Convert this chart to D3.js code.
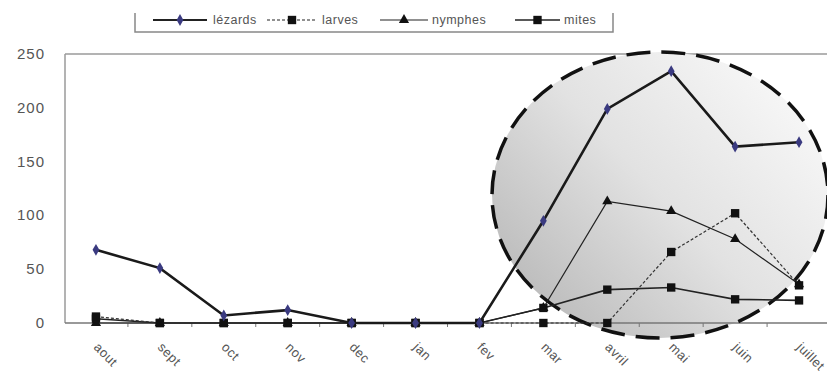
<!DOCTYPE html>
<html><head><meta charset="utf-8">
<script src="https://cdn.jsdelivr.net/npm/d3@7"></script>
<style>body{margin:0;background:#fff}svg{display:block}text{font-family:Arial,"Liberation Sans",sans-serif}</style>
</head><body><svg id="c" width="827" height="376"></svg>
<script>
const categories = ["aout","sept","oct","nov","dec","jan","fev","mar","avril","mai","juin","juillet"];
const lezards = [68, 51, 7, 12, 0, 0, 0, 95, 199, 234, 164, 168];
const larves  = [6, 0, 0, 0, 0, 0, 0, 0, 0, 66, 102, 35];
const nymphes = [0, 0, 0, 0, 0, 0, 0, 14, 113, 104, 78, 36];
const mites   = [4, 0, 0, 0, 0, 0, 0, 14, 31, 33, 22, 21];
const yTicks = [0, 50, 100, 150, 200, 250];
const seriesNames = ["lézards","larves","nymphes","mites"];

const svg = d3.select("#c");
const x = d3.scaleBand().domain(categories).range([64, 831]);
const y = d3.scaleLinear().domain([0, 250]).range([323, 54]);
const cx = d => x(d) + x.bandwidth()/2;

// gradient
const defs = svg.append("defs");
const g = defs.append("linearGradient").attr("id","gr").attr("x1","0").attr("y1","0.9").attr("x2","1").attr("y2","0.1");
g.append("stop").attr("offset","0").attr("stop-color","#b4b4b4");
g.append("stop").attr("offset","0.5").attr("stop-color","#e2e2e2");
g.append("stop").attr("offset","1").attr("stop-color","#fbfbfb");

// frame
svg.append("line").attr("x1",65).attr("x2",827).attr("y1",y(250)).attr("y2",y(250)).attr("stroke","#9a9a9a").attr("stroke-width",1.5);
svg.append("line").attr("x1",65).attr("x2",65).attr("y1",y(250)).attr("y2",y(0)).attr("stroke","#9a9a9a").attr("stroke-width",1.5);

// ellipse fill
svg.append("ellipse").attr("cx",660).attr("cy",195).attr("rx",168).attr("ry",143).attr("fill","url(#gr)");

// x axis
const xa = svg.append("g").attr("transform",`translate(0,${y(0)})`);
xa.append("line").attr("x1",65).attr("x2",827).attr("stroke","#777").attr("stroke-width",1.5);
xa.selectAll("line.t").data(categories.slice(1)).join("line").attr("class","t")
  .attr("x1",d=>x(d)).attr("x2",d=>x(d)).attr("y1",0).attr("y2",4).attr("stroke","#777");
xa.selectAll("text").data(categories).join("text")
  .attr("transform",d=>`translate(${cx(d)-3},${25}) rotate(45)`)
  .attr("font-size",13).attr("fill","#555").attr("letter-spacing",0.5).text(d=>d);

// y axis labels
svg.selectAll("text.yl").data(yTicks).join("text").attr("class","yl")
  .attr("x",45).attr("y",d=>y(d)+5).attr("text-anchor","end")
  .attr("font-size",15).attr("fill","#555").attr("letter-spacing",1).text(d=>d);

// ellipse stroke
svg.append("ellipse").attr("cx",660).attr("cy",195).attr("rx",168).attr("ry",143)
  .attr("fill","none").attr("stroke","#111").attr("stroke-width",3.5).attr("stroke-dasharray","24 11");

const line = d3.line().x((d,i)=>cx(categories[i])).y(d=>y(d));
const sq = d3.symbol().type(d3.symbolSquare).size(70);
const tri = d3.symbol().type(d3.symbolTriangle).size(45);
const dia = d3.symbol().type(d3.symbolDiamond).size(40);

function drawSeries(vals, opt){
  svg.append("path").datum(vals).attr("d",line).attr("fill","none")
    .attr("stroke",opt.stroke).attr("stroke-width",opt.w).attr("stroke-dasharray",opt.dash||null);
  svg.selectAll(null).data(vals).join("path")
    .attr("transform",(d,i)=>`translate(${cx(categories[i])},${y(d)})`)
    .attr("d",opt.sym).attr("fill",opt.fill);
}
drawSeries(mites,{stroke:"#222",w:1.6,sym:sq,fill:"#111"});
drawSeries(nymphes,{stroke:"#222",w:1.2,sym:tri,fill:"#111"});
drawSeries(larves,{stroke:"#333",w:1.2,dash:"3 2",sym:sq,fill:"#111"});
drawSeries(lezards,{stroke:"#1a1a1a",w:2.6,sym:dia,fill:"#3a3a80"});

// legend
svg.append("path").attr("d","M135,13V32H613V13").attr("fill","none").attr("stroke","#888").attr("stroke-width",1.5);
const leg = [
  {name:seriesNames[0], x1:153, x2:207, tx:213, sym:dia, fill:"#3a3a80", w:2, dash:null},
  {name:seriesNames[1], x1:267, x2:317, tx:322, sym:sq, fill:"#111", w:1.2, dash:"3 2"},
  {name:seriesNames[2], x1:380, x2:428, tx:432, sym:tri, fill:"#111", w:1.2, dash:null},
  {name:seriesNames[3], x1:515, x2:560, tx:564, sym:sq, fill:"#111", w:1.5, dash:null}
];
leg.forEach(l=>{
  svg.append("line").attr("x1",l.x1).attr("x2",l.x2).attr("y1",20).attr("y2",20)
    .attr("stroke","#222").attr("stroke-width",l.w).attr("stroke-dasharray",l.dash);
  svg.append("path").attr("transform",`translate(${(l.x1+l.x2)/2},20)`).attr("d",l.sym).attr("fill",l.fill);
  svg.append("text").attr("x",l.tx).attr("y",24).attr("font-size",12.5).attr("fill","#555").attr("letter-spacing",0.5).text(l.name);
});
</script></body></html>
